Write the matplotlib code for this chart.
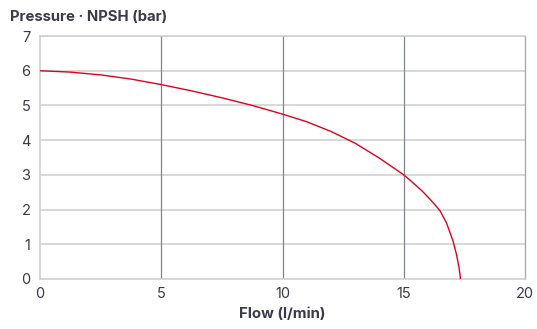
import matplotlib.pyplot as plt

# pump curve
flow = [0, 1.25, 2.5, 3.75, 5, 6.25, 7.5, 8.75, 10, 11, 12, 13, 14,
        15, 15.5, 15.75, 16, 16.25, 16.5, 16.76, 17.03, 17.17, 17.28, 17.34]
pressure = [6.0, 5.96, 5.88, 5.76, 5.6, 5.42, 5.22, 5.0, 4.75, 4.53, 4.25, 3.91, 3.48,
            3.0, 2.7, 2.54, 2.36, 2.17, 1.96, 1.62, 1.1, 0.72, 0.33, 0.0]

x_ticks = [0, 5, 10, 15, 20]
y_ticks = [0, 1, 2, 3, 4, 5, 6, 7]

text_col = "#3a3a4a"
plt.rcParams['font.family'] = ['Inter', 'DejaVu Sans']

fig = plt.figure(figsize=(5.37, 3.29), dpi=100)
ax = fig.add_axes([40 / 537, 1 - 279 / 329, 485 / 537, 243 / 329])

ax.plot(flow, pressure, color="#e2001a", linewidth=1.0, solid_joinstyle="round", zorder=3)

ax.set_xlim(0, 20)
ax.set_ylim(0, 7)
ax.set_xticks(x_ticks)
ax.set_yticks(y_ticks)

for y in y_ticks[1:]:
    ax.axhline(y, color="#d2d2d2", linewidth=1.2, zorder=1)
for x in x_ticks[1:-1]:
    ax.axvline(x, color="#7d8290", linewidth=0.9, zorder=2)

for side in ["left", "bottom", "top"]:
    ax.spines[side].set_color("#cfcfcf")
    ax.spines[side].set_linewidth(1.2)
ax.spines["right"].set_color("#a9abb3")
ax.spines["right"].set_linewidth(1.0)

ax.tick_params(length=0, labelsize=10.5, colors=text_col)
ax.tick_params(axis="y", pad=7)
ax.tick_params(axis="x", pad=6)

ax.set_xlabel("Flow (l/min)", fontsize=10.8, fontweight="bold", color=text_col, labelpad=4)
fig.text(10 / 537, 1 - 17 / 329, "Pressure · NPSH (bar)", fontsize=10.7, fontweight="bold",
         color=text_col, ha="left", va="center")

fig.savefig("out.png", dpi=100)
